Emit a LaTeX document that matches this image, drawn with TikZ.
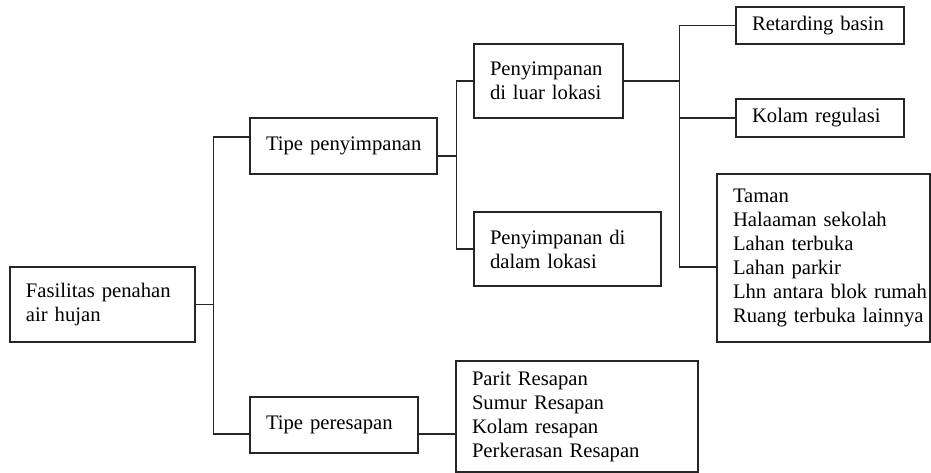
\documentclass[tikz,border=0pt]{standalone}
\usepackage{fontspec}
\setmainfont{Liberation Serif}
\usetikzlibrary{calc}
\tikzset{
  kotak/.style={draw=black!85, line width=0.8pt, align=left, inner xsep=12pt, inner ysep=0pt,
    font=\fontsize{15.5}{18}\selectfont,
    execute at begin node={\rightskip=0pt plus 1fil minus 30pt\hyphenpenalty=10000}},
  garis/.style={black!85, line width=0.8pt}
}
\begin{document}
\begin{tikzpicture}[x=0.75pt, y=-0.75pt]
  \useasboundingbox (0,0) rectangle (931,473);
  \node[kotak, text width=114.75pt, minimum height=56.25pt] (root) at (102.5,304.5) {Fasilitas penahan\\air hujan};
  \node[kotak, text width=116.25pt, minimum height=42pt] (tpen) at (343.5,146) {Tipe penyimpanan};
  \node[kotak, text width=102pt, minimum height=42pt] (tres) at (334,425) {Tipe peresapan};
  \node[kotak, text width=87.75pt, minimum height=55.5pt] (luar) at (548.5,81) {Penyimpanan\\di luar lokasi};
  \node[kotak, text width=116.25pt, minimum height=55.5pt] (dalam) at (567.5,249) {Penyimpanan di\\dalam lokasi};
  \node[kotak, text width=102pt, minimum height=27.75pt] (retard) at (820,25.5) {Retarding basin};
  \node[kotak, text width=102pt, minimum height=28.5pt] (kolam) at (820,118) {Kolam regulasi};
  \node[kotak, text width=135.75pt, minimum height=126pt] (taman) at (823.5,258)
    {Taman\\Halaaman sekolah\\Lahan terbuka\\Lahan parkir\\Lhn antara blok rumah\\Ruang terbuka lainnya};
  \node[kotak, text width=157.5pt, minimum height=83.25pt] (parit) at (577,416.5)
    {Parit Resapan\\Sumur Resapan\\Kolam resapan\\Perkerasan Resapan};

  \draw [garis] (root.east) -- ++(18,0) coordinate (c1);
  \draw [garis] ($(tpen.west)+(0,-9)$) -| (c1) |- ($(tres.west)+(0,9)$);
  \draw [garis] ($(tpen.east)+(0,10)$) -- ++(19,0) coordinate (c2);
  \draw [garis] (luar.west) -| (c2) |- (dalam.west);
  \coordinate (c3) at ($(tres.east)+(0,9)$);
  \draw [garis] (c3) -- (c3 -| parit.west);
  \draw [garis] (luar.east) -- ++(56,0) coordinate (c4);
  \draw [garis] (retard.west) -| (c4) |- ($(taman.west)+(0,9)$);
  \draw [garis] (kolam.west) -- (kolam.west -| c4);
\end{tikzpicture}
\end{document}
